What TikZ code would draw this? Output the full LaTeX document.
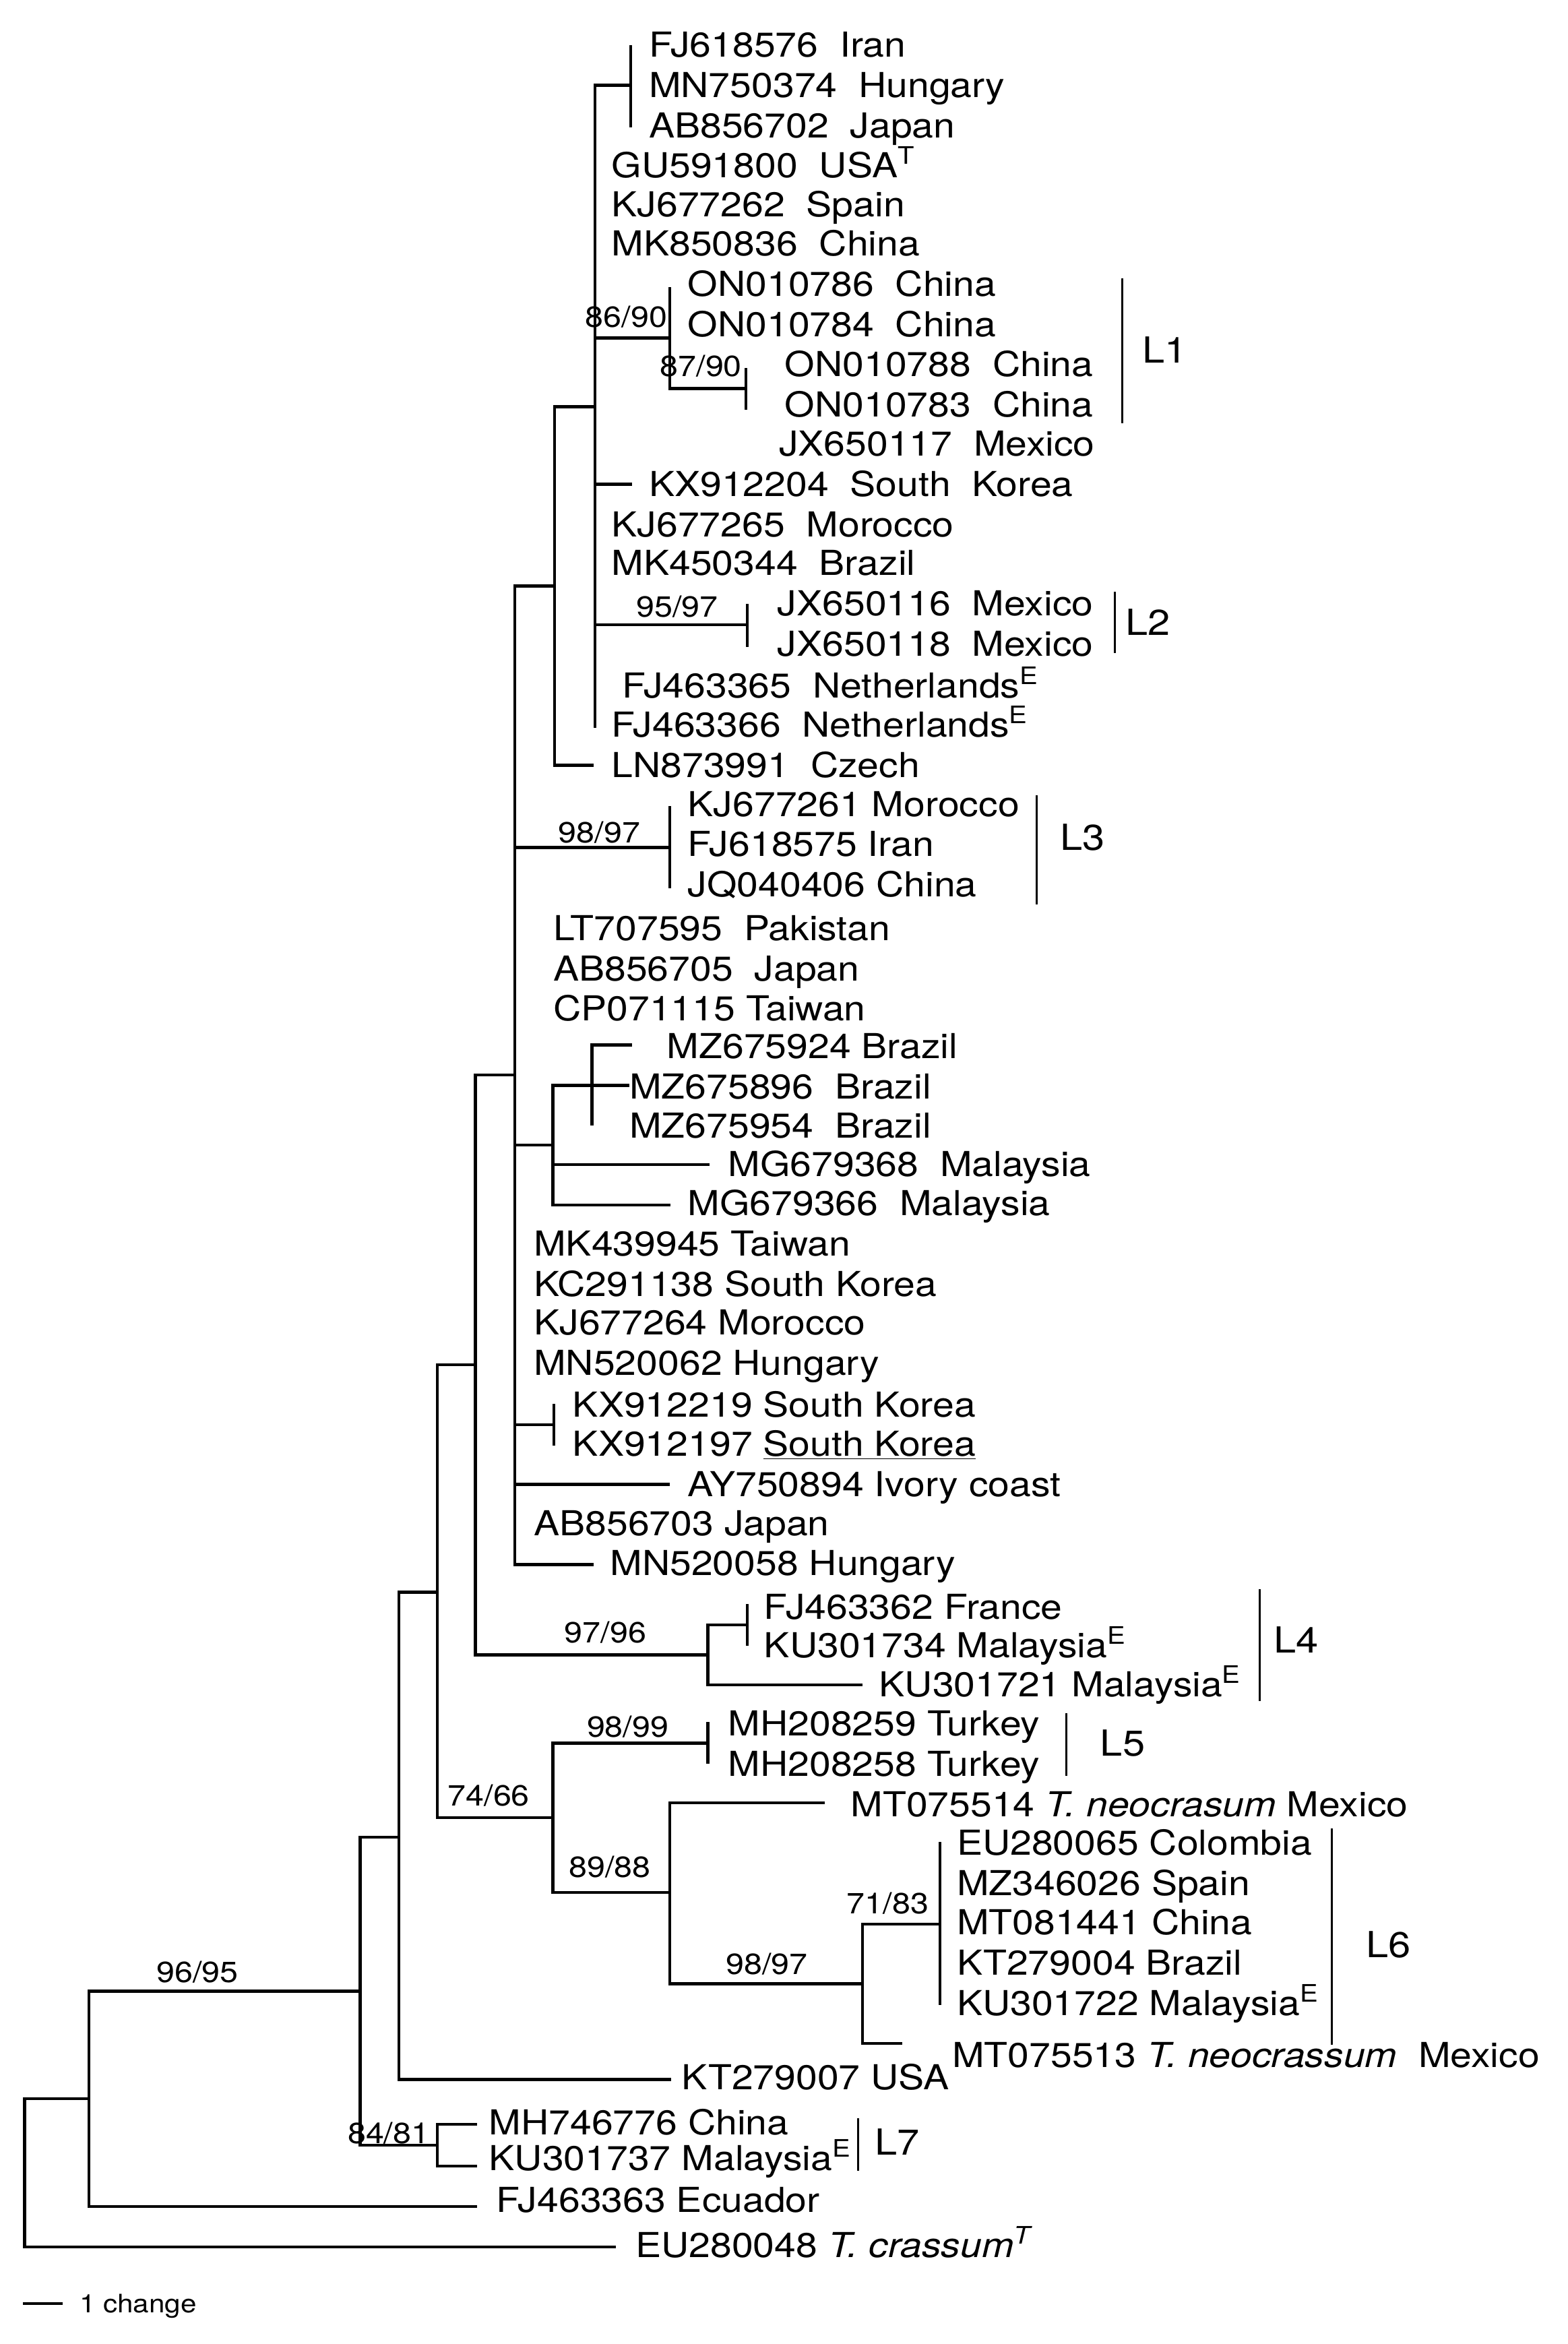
\documentclass[tikz,border=0pt]{standalone}
\usepackage{fontspec}
\setmainfont{TeX Gyre Heros}[FakeStretch=1.12]
\newcommand\leaffont{\fontsize{23}{27}\selectfont}
\newcommand\bootfont{\fontsize{19.5}{23}\selectfont}
\newcommand\linfont{\fontsize{24}{28}\selectfont}
\newcommand\sbfont{\fontsize{17}{20}\selectfont}
\begin{document}
\begin{tikzpicture}[x=1pt,y=-1pt,
  br/.style={line width=2pt},
  clade/.style={line width=1.4pt},
  leaf/.style={anchor=base west,inner sep=0pt,font=\leaffont},
  boot/.style={anchor=center,inner sep=0pt,font=\bootfont},
  lin/.style={anchor=west,inner sep=0pt,font=\linfont}]
\useasboundingbox[fill=white] (0,0) rectangle (1049,1568);
% ---------- internal nodes and tips ----------
\coordinate (R) at (16.5,1453.5);
\coordinate (NA) at (59.5,1404);
\coordinate (tEU280048) at (412,1503);
\coordinate (NB) at (241,1332);
\coordinate (tFJ463363) at (319,1476);
\coordinate (N0) at (267,1229);
\coordinate (N84) at (292.7,1435);
\coordinate (tMH746776) at (319,1421);
\coordinate (tKU301737) at (319,1449);
\coordinate (N1) at (292.5,1065);
\coordinate (tKT279007) at (449,1391);
\coordinate (N2) at (318,913);
\coordinate (N6) at (370,1216);
\coordinate (N3) at (344.5,719);
\coordinate (N97) at (473.5,1107);
\coordinate (NFJ) at (500,1087);
\coordinate (tFJ463362) at (500,1073);
\coordinate (tKU301734) at (500,1101);
\coordinate (tKU301721) at (577,1127);
\coordinate (N98b) at (473.5,1166);
\coordinate (tMH208259) at (473.5,1152);
\coordinate (tMH208258) at (473.5,1180);
\coordinate (N7) at (448,1266);
\coordinate (tMT075514) at (552,1206);
\coordinate (N8) at (577,1327);
\coordinate (tMT075513) at (603.5,1367);
\coordinate (N71) at (629,1287);
\coordinate (tEU280065) at (629,1232);
\coordinate (tKU301722) at (629,1341);
\coordinate (N4) at (371,392);
\coordinate (N98a) at (448,567);
\coordinate (tKJ677261) at (448,539);
\coordinate (tJQ040406) at (448,594);
\coordinate (NBr) at (370,766);
\coordinate (NMZ) at (396,726);
\coordinate (tMZ675924) at (423,699);
\coordinate (tMZ675896) at (421,726);
\coordinate (tMZ675954) at (396,753);
\coordinate (tMG679368) at (474.5,779);
\coordinate (tMG679366) at (448.6,806);
\coordinate (NKX) at (370.7,953);
\coordinate (tKX912219) at (370.7,939);
\coordinate (tKX912197) at (370.7,967);
\coordinate (tAY750894) at (448,993);
\coordinate (tMN520058) at (397,1046.5);
\coordinate (N5) at (398,272);
\coordinate (tLN873991) at (397,512);
\coordinate (NIran) at (422,57);
\coordinate (tFJ618576) at (422,30);
\coordinate (tAB856702) at (422,85);
\coordinate (N86) at (448,226);
\coordinate (tON010786) at (448,192);
\coordinate (N87) at (499,260);
\coordinate (tON010788) at (499,246);
\coordinate (tON010783) at (499,274);
\coordinate (tKX912204) at (423,324);
\coordinate (N95) at (500,418);
\coordinate (tJX650116) at (500,404);
\coordinate (tJX650118) at (500,433);
\coordinate (tFJ463366) at (398,487);
% ---------- branches ----------
\foreach \p/\c in {R/NA,R/tEU280048,NA/NB,NA/tFJ463363,NB/N0,NB/N84,
  N84/tMH746776,N84/tKU301737,N0/N1,N0/tKT279007,N1/N2,N1/N6,N2/N3,N2/N97,
  N97/NFJ,N97/tKU301721,NFJ/tFJ463362,NFJ/tKU301734,N6/N98b,N6/N7,
  N98b/tMH208259,N98b/tMH208258,N7/tMT075514,N7/N8,N8/N71,N8/tMT075513,
  N71/tEU280065,N71/tKU301722,N3/N4,N3/N98a,N3/NBr,N3/NKX,N3/tAY750894,
  N3/tMN520058,N98a/tKJ677261,N98a/tJQ040406,NBr/NMZ,NBr/tMG679368,
  NBr/tMG679366,NMZ/tMZ675924,NMZ/tMZ675896,NMZ/tMZ675954,NKX/tKX912219,
  NKX/tKX912197,N4/N5,N4/tLN873991,N5/NIran,N5/N86,N5/tKX912204,N5/N95,
  N5/tFJ463366,NIran/tFJ618576,NIran/tAB856702,N86/tON010786,N86/N87,
  N87/tON010788,N87/tON010783,N95/tJX650116,N95/tJX650118}
  \draw[br] (\p) |- (\c);
% ---------- leaf labels ----------
\node[leaf] (lFJ618576) at (434,38) {FJ618576~~Iran};
\node[leaf] (lMN750374) at (434,65) {MN750374~~Hungary};
\node[leaf] (lAB856702) at (434,92) {AB856702~~Japan};
\node[leaf] (lGU591800) at (409,119) {GU591800~~USA\textsuperscript{T}};
\node[leaf] (lKJ677262) at (409,145) {KJ677262~~Spain};
\node[leaf] (lMK850836) at (409,171) {MK850836~~China};
\node[leaf] (lON010786) at (460,198) {ON010786~~China};
\node[leaf] (lON010784) at (460,225) {ON010784~~China};
\node[leaf] (lON010788) at (525,252) {ON010788~~China};
\node[leaf] (lON010783) at (525,279) {ON010783~~China};
\node[leaf] (lJX650117) at (521,305) {JX650117~~Mexico};
\node[leaf] (lKX912204) at (434,332) {KX912204~~South~~Korea};
\node[leaf] (lKJ677265) at (409,359) {KJ677265~~Morocco};
\node[leaf] (lMK450344) at (409,385) {MK450344~~Brazil};
\node[leaf] (lJX650116) at (520,412) {JX650116~~Mexico};
\node[leaf] (lJX650118) at (520,439) {JX650118~~Mexico};
\node[leaf] (lFJ463365) at (416,467) {FJ463365~~Netherlands\textsuperscript{E}};
\node[leaf] (lFJ463366) at (409,493) {FJ463366~~Netherlands\textsuperscript{E}};
\node[leaf] (lLN873991) at (409,520) {LN873991~~Czech};
\node[leaf] (lKJ677261) at (460,546) {KJ677261 Morocco};
\node[leaf] (lFJ618575) at (460,573) {FJ618575 Iran};
\node[leaf] (lJQ040406) at (460,600) {JQ040406 China};
\node[leaf] (lLT707595) at (370,629) {LT707595~~Pakistan};
\node[leaf] (lAB856705) at (370,656) {AB856705~~Japan};
\node[leaf] (lCP071115) at (370,683) {CP071115 Taiwan};
\node[leaf] (lMZ675924) at (446,708) {MZ675924 Brazil};
\node[leaf] (lMZ675896) at (421,735) {MZ675896~~Brazil};
\node[leaf] (lMZ675954) at (421,761) {MZ675954~~Brazil};
\node[leaf] (lMG679368) at (487,787) {MG679368~~Malaysia};
\node[leaf] (lMG679366) at (460,813) {MG679366~~Malaysia};
\node[leaf] (lMK439945) at (357,840) {MK439945 Taiwan};
\node[leaf] (lKC291138) at (357,867) {KC291138 South Korea};
\node[leaf] (lKJ677264) at (357,893) {KJ677264 Morocco};
\node[leaf] (lMN520062) at (357,920) {MN520062 Hungary};
\node[leaf] (lKX912219) at (383,948) {KX912219 South Korea};
\node[leaf] (lKX912197) at (383,974) {KX912197 \underline{South Korea}};
\node[leaf] (lAY750894) at (460,1001) {AY750894 Ivory coast};
\node[leaf] (lAB856703) at (357,1027) {AB856703 Japan};
\node[leaf] (lMN520058) at (408,1054) {MN520058 Hungary};
\node[leaf] (lFJ463362) at (511,1083) {FJ463362 France};
\node[leaf] (lKU301734) at (511,1109) {KU301734 Malaysia\textsuperscript{E}};
\node[leaf] (lKU301721) at (588,1135) {KU301721 Malaysia\textsuperscript{E}};
\node[leaf] (lMH208259) at (487,1161) {MH208259 Turkey};
\node[leaf] (lMH208258) at (487,1188) {MH208258 Turkey};
\node[leaf] (lMT075514) at (569,1215) {MT075514 \textit{T. neocrasum} Mexico};
\node[leaf] (lEU280065) at (640,1241) {EU280065 Colombia};
\node[leaf] (lMZ346026) at (640,1268) {MZ346026 Spain};
\node[leaf] (lMT081441) at (640,1294) {MT081441 China};
\node[leaf] (lKT279004) at (640,1321) {KT279004 Brazil};
\node[leaf] (lKU301722) at (640,1348) {KU301722 Malaysia\textsuperscript{E}};
\node[leaf] (lMT075513) at (637,1383) {MT075513 \textit{T. neocrassum}~~Mexico};
\node[leaf] (lKT279007) at (456,1398) {KT279007 USA};
\node[leaf] (lMH746776) at (327,1428) {MH746776 China};
\node[leaf] (lKU301737) at (327,1452) {KU301737 Malaysia\textsuperscript{E}};
\node[leaf] (lFJ463363) at (332,1480) {FJ463363 Ecuador};
\node[leaf] (lEU280048) at (425,1510) {EU280048 \textit{T. crassum}\textsuperscript{\textit{T}}};
% ---------- support values ----------
\node[boot] (s1) at (419,212) {86/90};
\node[boot] (s2) at (469,245) {87/90};
\node[boot] (s3) at (453,406) {95/97};
\node[boot] (s4) at (401,557) {98/97};
\node[boot] (s5) at (405,1092) {97/96};
\node[boot] (s6) at (420,1155) {98/99};
\node[boot] (s7) at (327,1201) {74/66};
\node[boot] (s8) at (408,1249) {89/88};
\node[boot] (s9) at (513,1314) {98/97};
\node[boot] (s10) at (594,1273) {71/83};
\node[boot] (s11) at (260,1427) {84/81};
\node[boot] (s12) at (132,1319) {96/95};
% ---------- lineage brackets ----------
\coordinate (b1t) at (751,186); \coordinate (b1b) at (751,283);
\coordinate (b2t) at (746,396); \coordinate (b2b) at (746,437);
\coordinate (b3t) at (693.6,532); \coordinate (b3b) at (693.6,605);
\coordinate (b4t) at (843,1063); \coordinate (b4b) at (843,1138);
\coordinate (b5t) at (713.5,1146); \coordinate (b5b) at (713.5,1188);
\coordinate (b6t) at (891,1223); \coordinate (b6b) at (891,1368);
\coordinate (b7t) at (574,1417); \coordinate (b7b) at (574,1452);
\foreach \k in {1,...,7} \draw[clade] (b\k t) -- (b\k b);
\node[lin] (L1) at (764,234) {L1};
\node[lin] (L2) at (753,416) {L2};
\node[lin] (L3) at (709,560) {L3};
\node[lin] (L4) at (852,1097) {L4};
\node[lin] (L5) at (736,1166) {L5};
\node[lin] (L6) at (914,1301) {L6};
\node[lin] (L7) at (585,1433) {L7};
% ---------- scale bar ----------
\coordinate (sb1) at (15.5,1541);
\coordinate (sb2) at (42,1541);
\draw[br] (sb1) -- (sb2);
\node[anchor=base west,inner sep=0pt,font=\sbfont] (sbl) at (53,1547) {1 change};
\end{tikzpicture}
\end{document}
